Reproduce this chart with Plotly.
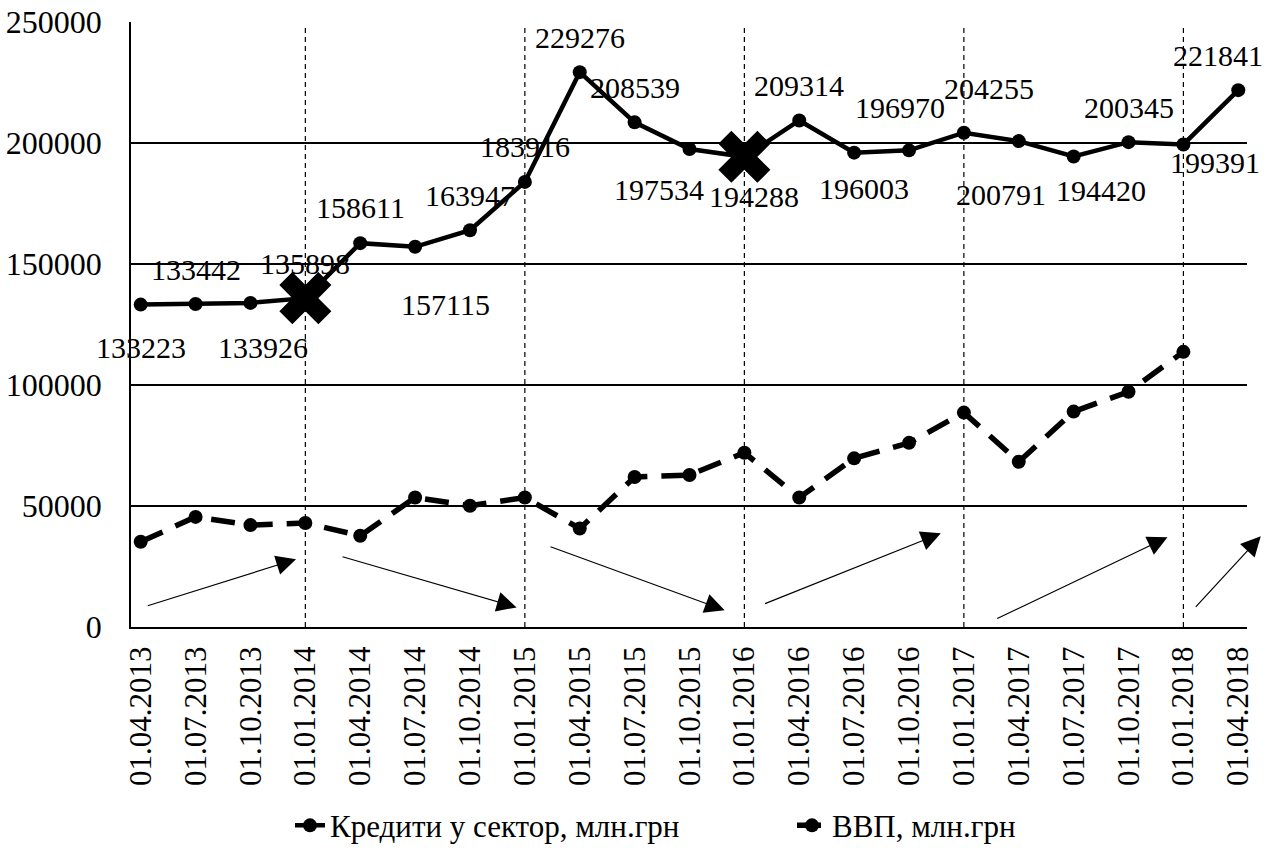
import plotly.graph_objects as go

dates = ["01.04.2013", "01.07.2013", "01.10.2013", "01.01.2014", "01.04.2014",
         "01.07.2014", "01.10.2014", "01.01.2015", "01.04.2015", "01.07.2015",
         "01.10.2015", "01.01.2016", "01.04.2016", "01.07.2016", "01.10.2016",
         "01.01.2017", "01.04.2017", "01.07.2017", "01.10.2017", "01.01.2018",
         "01.04.2018"]

credits = [133223, 133442, 133926, 135898, 158611, 157115, 163947, 183916,
           229276, 208539, 197534, 194288, 209314, 196003, 196970, 204255,
           200791, 194420, 200345, 199391, 221841]

gdp = [35200, 45500, 42100, 43000, 37700, 53500, 50100, 53500, 40700, 62000,
       62800, 72000, 53500, 69700, 76100, 88600, 68300, 89000, 97200, 113700]

cross_idx = [3, 11]
year_start_idx = [3, 7, 11, 15, 19]

# label offsets in pixels (dx, dy up-positive)
label_offsets = [(0, -43), (0, 35), (13, -45), (0, 35), (0, 36), (30, -58),
                 (0, 35), (0, 35), (0, 35), (0, 35), (-30, -41), (10, -40),
                 (0, 35), (10, -36), (-9, 43), (25, 44), (-18, -53),
                 (27, -34), (0, 35), (32, -18), (-20, 35)]

# trend arrows: (tail_x, tail_y, head_x, head_y) in data coordinates
arrows = [(0.10, 8600, 2.83, 28000), (3.65, 29200, 6.85, 8100),
          (7.44, 33400, 10.64, 6900), (11.35, 9400, 14.58, 38700),
          (15.58, 3200, 18.71, 37100), (19.20, 7700, 20.41, 37500)]

FONT = "Liberation Serif"
xs = list(range(len(dates)))

fig = go.Figure()
fig.add_trace(go.Scatter(
    x=xs, y=credits, mode="lines+markers", name="Кредити у сектор, млн.грн",
    line=dict(color="black", width=4.5), marker=dict(color="black", size=14),
    cliponaxis=False))
fig.add_trace(go.Scatter(
    x=xs[:len(gdp)], y=gdp, mode="lines+markers", name="ВВП, млн.грн",
    line=dict(color="black", width=5.5, dash="24px,14px"),
    marker=dict(color="black", size=14), cliponaxis=False))
fig.add_trace(go.Scatter(
    x=[xs[i] for i in cross_idx], y=[credits[i] for i in cross_idx],
    mode="markers", showlegend=False, hoverinfo="skip",
    marker=dict(symbol="x", color="black", size=46, line=dict(width=0)),
    cliponaxis=False))

for i in year_start_idx:
    fig.add_shape(type="line", x0=i, x1=i, y0=0, y1=248000, xref="x", yref="y",
                  line=dict(color="black", width=1.2, dash="5px,4px"), layer="below")

for i, (v, (dx, dy)) in enumerate(zip(credits, label_offsets)):
    fig.add_annotation(x=xs[i], y=v, text=str(v), showarrow=False,
                       xshift=dx, yshift=dy,
                       font=dict(family=FONT, size=30, color="black"))

for tx, ty, hx, hy in arrows:
    fig.add_annotation(x=hx, y=hy, ax=tx, ay=ty, xref="x", yref="y",
                       axref="x", ayref="y", text="", showarrow=True,
                       arrowhead=2, arrowsize=3.3, arrowwidth=1.2,
                       arrowcolor="black")

fig.update_layout(
    width=1279, height=853,
    margin=dict(l=131, r=32, t=22, b=226, autoexpand=False),
    paper_bgcolor="white", plot_bgcolor="white",
    font=dict(family=FONT, color="black"),
    showlegend=True,
    legend=dict(orientation="h", xref="container", yref="container",
                x=290 / 1279, xanchor="left", y=0.032, yanchor="middle",
                font=dict(family=FONT, size=31, color="black"),
                entrywidth=457, entrywidthmode="pixels", tracegroupgap=0),
    xaxis=dict(range=[-0.177, 20.159], tickmode="array", tickvals=xs,
               ticktext=dates, tickangle=-90, showgrid=False, zeroline=False,
               showline=True, linecolor="black", linewidth=2, ticks="",
               tickfont=dict(family=FONT, size=31, color="black"),
               ticklabelstandoff=5, automargin=False),
    yaxis=dict(range=[0, 250000], tickmode="array",
               tickvals=[0, 50000, 100000, 150000, 200000, 250000],
               ticktext=["0", "50000", "100000", "150000", "200000", "250000"],
               showgrid=True, gridcolor="black", gridwidth=1.5,
               zeroline=False, showline=True, linecolor="black", linewidth=1.5,
               ticks="", tickfont=dict(family=FONT, size=32, color="black"),
               ticklabelstandoff=21, automargin=False),
)

fig.write_html("out.html")
